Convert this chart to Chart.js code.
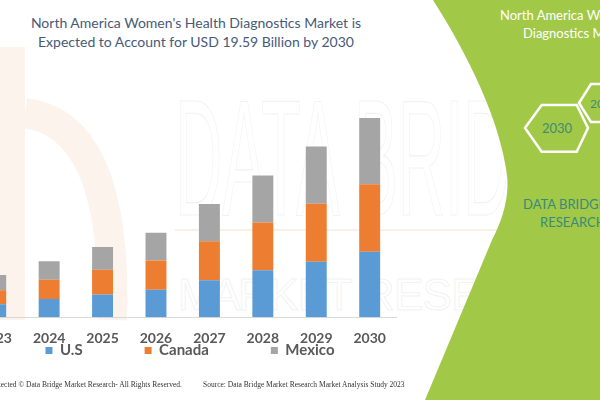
<!DOCTYPE html>
<html>
<head>
<meta charset="utf-8">
<script src="https://cdn.jsdelivr.net/npm/chart.js@4.4.1/dist/chart.umd.min.js"></script>
<style>
  body { margin: 0; }
  #page { position: relative; width: 600px; height: 400px; overflow: hidden; background: #fff; font-family: Lato, "Open Sans", sans-serif; }
  #bg { position: absolute; left: 0; top: 0; }
  #chart { position: absolute; left: -131px; top: 60px; }
  .title { position: absolute; left: 0; width: 392px; text-align: center; color: #475a78; font-size: 14px; }
  .foot { position: absolute; top: 380px; font-family: "Liberation Serif", serif; font-size: 7.5px; color: #333; white-space: nowrap; }
</style>
</head>
<body>
<div id="page">
  <svg id="bg" width="600" height="400">
    <!-- faint logo + watermark -->
    <path d="M12,47 L12,320" stroke="#fdf3ed" stroke-width="26" fill="none"/>
    <path d="M25,113 Q118,125 112,320" stroke="#fdf3ed" stroke-width="30" fill="none"/>
    <text x="175" y="215" font-family="Liberation Sans Narrow, Liberation Sans, sans-serif" font-size="165" textLength="430" lengthAdjust="spacingAndGlyphs" fill="none" stroke="#f2f2f2" stroke-width="1.2">DATA BRIDGE</text>
    <line x1="175" y1="230" x2="600" y2="230" stroke="#fcefe6" stroke-width="2"/>
    <text x="178" y="310" font-family="Liberation Sans, sans-serif" font-size="44" textLength="420" fill="none" stroke="#f3f3f3" stroke-width="1" style="white-space:pre">M A R K E T   R E S E A R C H</text>
    <!-- green panel -->
    <path d="M433,0 C468,55 500,120 507,175 C510,200 500,225 492,240 L425,400 L600,400 L600,0 Z" fill="#a2c847"/>
    <text x="500" y="20" font-family="Lato, sans-serif" font-size="13" fill="#fff">North America Women's Health</text>
    <text x="523" y="38" font-family="Lato, sans-serif" font-size="13" fill="#fff">Diagnostics Market</text>
    <polygon points="525,128 541.7,105 576.7,105 588,128 576.7,151.7 541.7,151.7" fill="none" stroke="#fff" stroke-width="2.5"/>
    <polygon points="579,103 591,84 625,84 637,103 625,122 591,122" fill="none" stroke="#fff" stroke-width="2.5"/>
    <text x="557" y="132.5" text-anchor="middle" font-family="Lato, sans-serif" font-size="13" fill="#3f8c72">2030</text>
    <text x="590" y="107.5" font-family="Lato, sans-serif" font-size="12" fill="#3f8c72">2023</text>
    <text x="523" y="209" font-family="Lato, sans-serif" font-size="13" fill="#3a8a78">DATA BRIDGE MARKET</text>
    <text x="540" y="227" font-family="Lato, sans-serif" font-size="13" fill="#3a8a78">RESEARCH</text>
  </svg>
  <div class="title" style="top:14px">North America Women's Health Diagnostics Market is</div>
  <div class="title" style="top:33px">Expected to Account for USD 19.59 Billion by 2030</div>
  <canvas id="chart" width="642" height="379"></canvas>
  <div class="foot" style="right:418px">Copyright Protected © Data Bridge Market Research- All Rights Reserved.</div>
  <div class="foot" style="left:203px">Source: Data Bridge Market Research Market Analysis Study 2023</div>
</div>
<script>
// values in USD billion
const years = ['2023', '2024', '2025', '2026', '2027', '2028', '2029', '2030'];
const usValues = [1.28, 1.78, 2.24, 2.70, 3.63, 4.61, 5.46, 6.45];
const canadaValues = [1.38, 1.91, 2.43, 2.87, 3.85, 4.70, 5.70, 6.62];
const mexicoValues = [1.48, 1.82, 2.24, 2.74, 3.66, 4.64, 5.63, 6.52];

const legendGap = 62;
const legendLiftPx = 71;

// legend item spacing needs big padding, pull the row back up under the axis
const legendLift = {
    id: 'legendLift',
    afterLayout(chart) {
        chart.legend.top -= legendLiftPx;
        chart.legend.bottom -= legendLiftPx;
    }
};

new Chart(document.getElementById('chart'), {
    type: 'bar',
    data: {
        labels: years,
        datasets: [
            { label: 'U.S', data: usValues, backgroundColor: '#5b9bd5' },
            { label: 'Canada', data: canadaValues, backgroundColor: '#ed7d31' },
            { label: 'Mexico', data: mexicoValues, backgroundColor: '#a5a5a5' }
        ]
    },
    options: {
        responsive: false,
        animation: false,
        categoryPercentage: 0.8,
        barPercentage: 0.49,
        layout: { padding: 0 },
        plugins: {
            tooltip: { enabled: false },
            legend: {
                position: 'bottom',
                labels: {
                    boxWidth: 7,
                    boxHeight: 7,
                    padding: legendGap,
                    color: '#595959',
                    font: { family: 'Lato', size: 15, weight: 'bold' }
                }
            }
        },
        scales: {
            x: {
                stacked: true,
                grid: { display: false },
                border: { color: '#d9d9d9' },
                ticks: { color: '#595959', padding: 5, font: { family: 'Lato', size: 14, weight: 'bold' } }
            },
            y: {
                stacked: true,
                position: 'right',
                min: 0,
                max: 25.3,
                grid: { display: false },
                border: { display: false },
                ticks: { display: false },
                afterFit: function(scale) { scale.width = 114.6; }
            },
            // empty axis on the left, only there to keep the plot off the legend's centre
            yPad: {
                position: 'left',
                grid: { display: false },
                border: { display: false },
                ticks: { display: false },
                afterFit: function(scale) { scale.width = 100; }
            }
        }
    },
    plugins: [legendLift]
});
</script>
</body>
</html>
